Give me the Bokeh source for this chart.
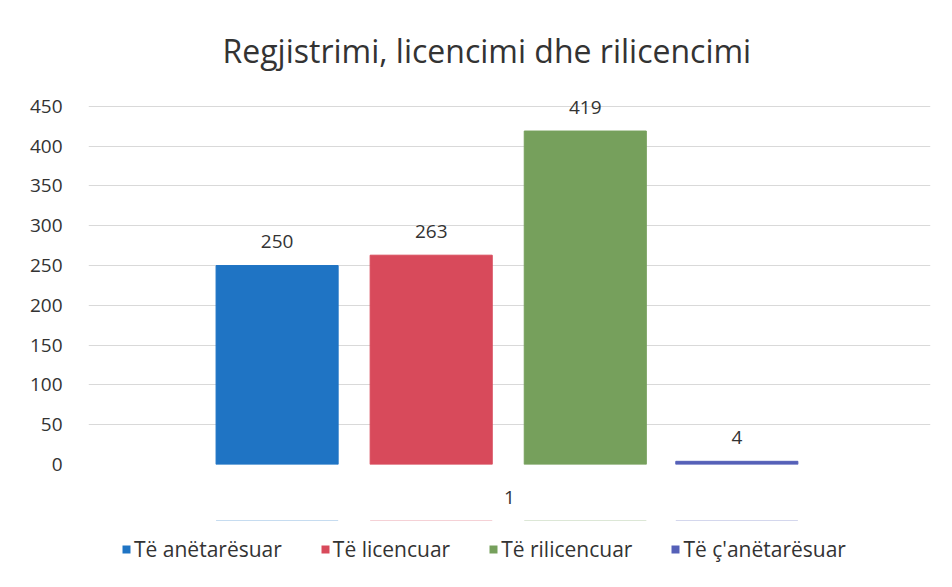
from bokeh.plotting import figure
from bokeh.layouts import column
from bokeh.models import ColumnDataSource, Range1d, FactorRange, FixedTicker, Legend, LegendItem
from bokeh.transform import dodge
from bokeh.core.properties import value
from bokeh.embed import file_html
from bokeh.resources import INLINE

chart_title = "Regjistrimi, licencimi dhe rilicencimi"
categories = ["1"]
series_names = ["Të anëtarësuar", "Të licencuar", "Të rilicencuar", "Të ç'anëtarësuar"]
series_values = [250, 263, 419, 4]
series_colors = ["#1f74c4", "#d84a5b", "#76a05c", "#5560b8"]
y_ticks = [0, 50, 100, 150, 200, 250, 300, 350, 400, 450]

FONT = "Open Sans"
TEXT_COLOR = "#333333"

p = figure(x_range=FactorRange(*categories, range_padding=0), y_range=Range1d(0, 480),
           frame_width=842, frame_height=382, output_backend="svg", toolbar_location=None,
           min_border_left=88, min_border_right=14, min_border_top=82, min_border_bottom=56)

p.title.text = chart_title
p.title.text_font = FONT
p.title.text_font_size = "32px"
p.title.text_font_style = "normal"
p.title.text_color = TEXT_COLOR
p.title.align = "left"
p.title.offset = 134
p.title.standoff = 21

p.outline_line_color = None
p.background_fill_color = "white"
p.border_fill_color = "white"

# legend strip below the chart (same x range; y range far from the bars so only the swatches show)
lg = figure(x_range=p.x_range, y_range=Range1d(-1000, -999), width=944, height=60,
            output_backend="svg", toolbar_location=None,
            x_axis_location=None, y_axis_location=None,
            min_border_left=0, min_border_right=0, min_border_top=0, min_border_bottom=0)
lg.outline_line_color = None
lg.xgrid.grid_line_color = None
lg.ygrid.grid_line_color = None

offsets = [-0.276, -0.093, 0.090, 0.270]
bar_w = 0.145
items = []
for name, val, col, off in zip(series_names, series_values, series_colors, offsets):
    src = ColumnDataSource(dict(cat=categories, val=[val], lab=[str(val)]))
    p.vbar(x=dodge("cat", off, range=p.x_range), top="val", width=bar_w, source=src,
           fill_color=col, line_color=col)
    p.text(x=dodge("cat", off, range=p.x_range), y="val", text="lab", source=src,
           text_font=value(FONT), text_font_size="19px", text_color=TEXT_COLOR,
           text_align="center", text_baseline="middle", y_offset=-24)
    r = lg.vbar(x=dodge("cat", off, range=p.x_range), top="val", width=bar_w, source=src,
                fill_color=col, line_color=None)
    items.append(LegendItem(label=name, renderers=[r]))

p.yaxis.ticker = FixedTicker(ticks=y_ticks)
for ax in (p.xaxis[0], p.yaxis[0]):
    ax.axis_line_color = None
    ax.major_tick_line_color = None
    ax.minor_tick_line_color = None
    ax.major_label_text_font = FONT
    ax.major_label_text_font_size = "19px"
    ax.major_label_text_color = TEXT_COLOR
p.yaxis.major_label_standoff = 20
p.xaxis.major_label_standoff = 20

p.xgrid.grid_line_color = None
p.ygrid.grid_line_color = "#d9d9d9"
p.ygrid.grid_line_width = 1

legend = Legend(items=items, orientation="horizontal", location=(33, 17),
                label_text_font=FONT, label_text_font_size="21px", label_text_color=TEXT_COLOR,
                glyph_width=10, glyph_height=10, label_standoff=3, spacing=38,
                border_line_color=None, background_fill_alpha=0, margin=0, padding=2)
lg.add_layout(legend, "center")

layout = column(p, lg, spacing=0)
open("out.html", "w").write(file_html(layout, INLINE))
